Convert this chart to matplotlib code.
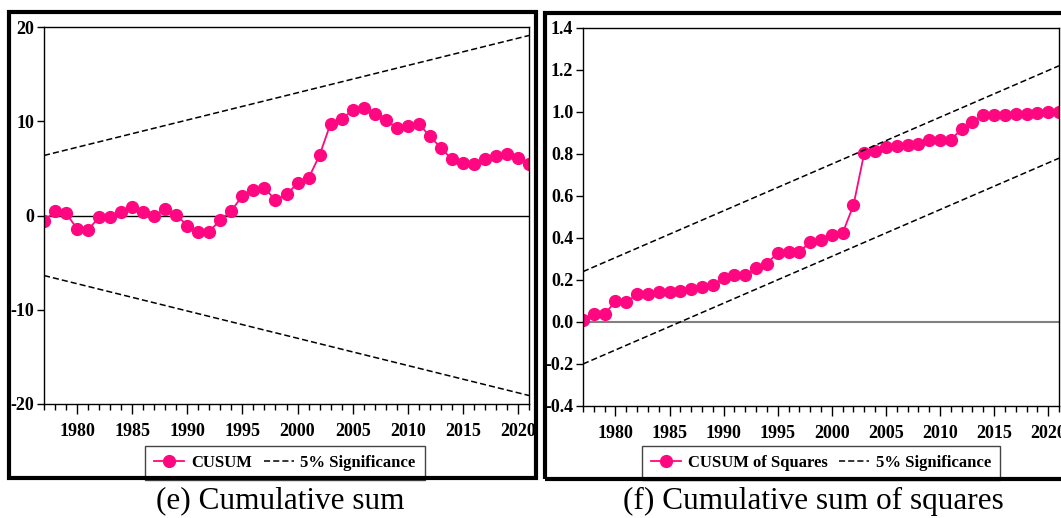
import numpy as np
import matplotlib
matplotlib.use("Agg")
import matplotlib.pyplot as plt
from matplotlib.patches import Rectangle

plt.rcParams['font.family'] = ['Liberation Serif', 'DejaVu Serif']
plt.rcParams['axes.unicode_minus'] = False

years = np.arange(1977, 2022)

cusum = [-0.63, 0.5, 0.25, -1.4, -1.5, -0.2, -0.2, 0.4, 0.95, 0.35,
         0.0, 0.65, 0.1, -1.1, -1.8, -1.7, -0.45, 0.5, 2.1, 2.7,
         2.9, 1.65, 2.25, 3.4, 3.95, 6.4, 9.75, 10.25, 11.15, 11.4,
         10.8, 10.1, 9.3, 9.45, 9.75, 8.4, 7.2, 5.95, 5.6, 5.5,
         5.95, 6.35, 6.5, 6.15, 5.5]

cusumsq = [0.01, 0.038, 0.038, 0.098, 0.093, 0.133, 0.133, 0.141, 0.144, 0.150,
           0.157, 0.166, 0.174, 0.21, 0.222, 0.222, 0.256, 0.278, 0.33, 0.334,
           0.334, 0.381, 0.392, 0.416, 0.424, 0.556, 0.805, 0.813, 0.833, 0.837,
           0.841, 0.849, 0.865, 0.868, 0.868, 0.919, 0.951, 0.984, 0.984, 0.986,
           0.989, 0.992, 0.995, 0.998, 1.0]

bound_years = [1977, 2021]
cusum_upper = [6.37, 19.1]
cusum_lower = [-6.37, -19.1]
sq_upper = [0.24, 1.22]
sq_lower = [-0.20, 0.78]

pink = '#FF0780'
W, H = 1061, 518

fig = plt.figure(figsize=(W / 100, H / 100), dpi=100)


def fx(px):
    return px / W


def fy(py):
    return 1 - py / H


def style_axis(ax):
    ax.set_xlim(1977, 2021)
    ax.set_xticks(range(1980, 2021, 5))
    ax.set_xticks(range(1977, 2022), minor=True)
    ax.tick_params(axis='x', which='major', length=7, width=1, direction='out', pad=7)
    ax.tick_params(axis='x', which='minor', length=4, width=1, direction='out')
    ax.tick_params(axis='y', length=5, width=1, direction='out', pad=2)
    for lab in ax.get_xticklabels() + ax.get_yticklabels():
        lab.set_fontweight('bold')
        lab.set_fontsize(13)
    for s in ax.spines.values():
        s.set_linewidth(1)


# left panel: CUSUM
ax1 = fig.add_axes([fx(44), fy(404), fx(529) - fx(44), fy(27) - fy(404)])
ax1.axhline(0, color='black', lw=1)
l1, = ax1.plot(years, cusum, '-o', color=pink, lw=1.3, ms=8.5, label='CUSUM')
l2, = ax1.plot(bound_years, cusum_upper, '--', color='black', lw=1.1,
               dashes=(4, 2), label='5% Significance')
ax1.plot(bound_years, cusum_lower, '--', color='black', lw=1.1, dashes=(4, 2))
ax1.set_ylim(-20, 20)
ax1.set_yticks([-20, -10, 0, 10, 20])
style_axis(ax1)

# right panel: CUSUM of squares
ax2 = fig.add_axes([fx(583), fy(406), fx(1059) - fx(583), fy(28) - fy(406)])
ax2.axhline(0, color='#808080', lw=1.5)
m1, = ax2.plot(years, cusumsq, '-o', color=pink, lw=1.3, ms=8.5,
               label='CUSUM of Squares')
m2, = ax2.plot(bound_years, sq_upper, '--', color='black', lw=1.1,
               dashes=(4, 2), label='5% Significance')
ax2.plot(bound_years, sq_lower, '--', color='black', lw=1.1, dashes=(4, 2))
ax2.set_ylim(-0.4, 1.4)
ax2.set_yticks(np.round(np.arange(-0.4, 1.41, 0.2), 1))
ax2.yaxis.set_major_formatter(matplotlib.ticker.FormatStrFormatter('%.1f'))
style_axis(ax2)

# legends
for handles, cx in [((l1, l2), 285), ((m1, m2), 821)]:
    leg = fig.legend(handles=handles, loc='lower center',
                     bbox_to_anchor=(fx(cx), fy(480)), ncol=2,
                     prop={'family': 'Liberation Serif', 'weight': 'bold', 'size': 12},
                     frameon=True, fancybox=False, handlelength=1.8,
                     handletextpad=0.4, columnspacing=0.7, borderpad=0.55,
                     borderaxespad=0, edgecolor='#444444', framealpha=1)
    leg.get_frame().set_linewidth(1)

# thick outer frames
fig.patches.append(Rectangle((fx(9), fy(478)), fx(536) - fx(9), fy(12) - fy(478),
                             transform=fig.transFigure, fill=False,
                             edgecolor='black', lw=3, zorder=10))
fig.patches.append(Rectangle((fx(545), fy(479)), fx(1075) - fx(545), fy(13) - fy(479),
                             transform=fig.transFigure, fill=False,
                             edgecolor='black', lw=3, zorder=10))

# captions
fig.text(fx(280), fy(501), '(e) Cumulative sum', ha='center', va='center',
         fontsize=22.5)
fig.text(fx(813), fy(501), '(f) Cumulative sum of squares', ha='center',
         va='center', fontsize=22.5)

fig.savefig('out.png', dpi=100)
